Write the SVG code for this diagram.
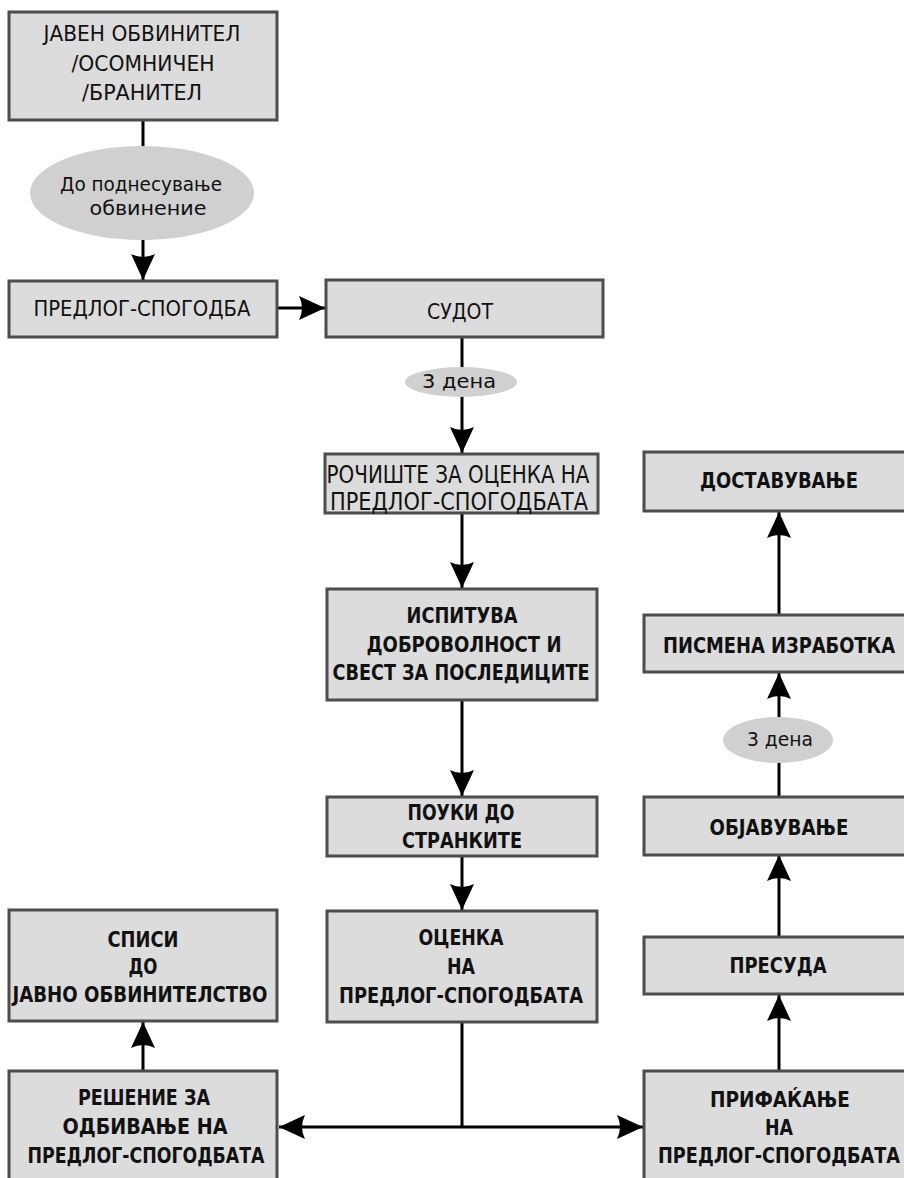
<svg xmlns="http://www.w3.org/2000/svg" width="904" height="1178" viewBox="0 0 904 1178">
  <style>
    .box { fill: #dcdcdc; stroke: #4d4d4d; stroke-width: 3; }
    .oval { fill: #d0d0d0; stroke: none; }
    .edge { stroke: #000; stroke-width: 3; fill: none; }
    .t { font-family: "DejaVu Sans Condensed", "Liberation Sans Narrow", "Liberation Sans", sans-serif; font-size: 22px; fill: #111; text-anchor: middle; }
    .b { font-weight: bold; }
    .s { font-size: 19px; }
  </style>
  <defs>
    <marker id="arrow" viewBox="0 0 26 24" refX="26" refY="12" markerWidth="26" markerHeight="24" markerUnits="userSpaceOnUse" orient="auto-start-reverse">
      <path d="M0,0 L26,12 L0,24 Q6,12 0,0 Z" fill="#000"/>
    </marker>
  </defs>

  <!-- connectors -->
  <g id="connectors">
    <line class="edge" x1="143" y1="120" x2="143" y2="280" marker-end="url(#arrow)"/>
    <line class="edge" x1="277" y1="308" x2="325" y2="308" marker-end="url(#arrow)"/>
    <line class="edge" x1="462" y1="337" x2="462" y2="453" marker-end="url(#arrow)"/>
    <line class="edge" x1="462" y1="513" x2="462" y2="588" marker-end="url(#arrow)"/>
    <line class="edge" x1="462" y1="700" x2="462" y2="796" marker-end="url(#arrow)"/>
    <line class="edge" x1="462" y1="856" x2="462" y2="910" marker-end="url(#arrow)"/>
    <line class="edge" x1="462" y1="1022" x2="462" y2="1127"/>
    <line class="edge" x1="279" y1="1127" x2="643" y2="1127" marker-start="url(#arrow)" marker-end="url(#arrow)"/>
    <line class="edge" x1="143" y1="1071" x2="143" y2="1022" marker-end="url(#arrow)"/>
    <line class="edge" x1="779" y1="1071" x2="779" y2="995" marker-end="url(#arrow)"/>
    <line class="edge" x1="779" y1="937" x2="779" y2="855" marker-end="url(#arrow)"/>
    <line class="edge" x1="779" y1="797" x2="779" y2="673" marker-end="url(#arrow)"/>
    <line class="edge" x1="779" y1="615" x2="779" y2="512" marker-end="url(#arrow)"/>
  </g>

  <!-- left column -->
  <g id="n-parties">
    <rect class="box" x="9" y="12" width="268" height="108"/>
    <text class="t" x="142" y="41" textLength="197" lengthAdjust="spacingAndGlyphs">ЈАВЕН ОБВИНИТЕЛ</text>
    <text class="t" x="143" y="71" textLength="143" lengthAdjust="spacingAndGlyphs">/ОСОМНИЧЕН</text>
    <text class="t" x="142" y="100" textLength="120" lengthAdjust="spacingAndGlyphs">/БРАНИТЕЛ</text>
  </g>
  <g id="n-deadline1">
    <ellipse class="oval" cx="142" cy="193" rx="112" ry="47"/>
    <text class="t s" x="141" y="191" textLength="162" lengthAdjust="spacingAndGlyphs">До поднесување</text>
    <text class="t s" x="148" y="215" textLength="117" lengthAdjust="spacingAndGlyphs">обвинение</text>
  </g>
  <g id="n-proposal">
    <rect class="box" x="9" y="281" width="268" height="56"/>
    <text class="t" x="142" y="316" textLength="217" lengthAdjust="spacingAndGlyphs">ПРЕДЛОГ-СПОГОДБА</text>
  </g>
  <g id="n-files">
    <rect class="box" x="9" y="910" width="268" height="111"/>
    <text class="t b" x="143" y="947" textLength="71" lengthAdjust="spacingAndGlyphs">СПИСИ</text>
    <text class="t b" x="143" y="974" textLength="29" lengthAdjust="spacingAndGlyphs">ДО</text>
    <text class="t b" x="140" y="1002" textLength="255" lengthAdjust="spacingAndGlyphs">ЈАВНО ОБВИНИТЕЛСТВО</text>
  </g>
  <g id="n-reject">
    <rect class="box" x="9" y="1071" width="268" height="120"/>
    <text class="t b" x="144" y="1105" textLength="132" lengthAdjust="spacingAndGlyphs">РЕШЕНИЕ ЗА</text>
    <text class="t b" x="145" y="1134" textLength="165" lengthAdjust="spacingAndGlyphs">ОДБИВАЊЕ НА</text>
    <text class="t b" x="146" y="1163" textLength="237" lengthAdjust="spacingAndGlyphs">ПРЕДЛОГ-СПОГОДБАТА</text>
  </g>

  <!-- middle column -->
  <g id="n-court">
    <rect class="box" x="326" y="280" width="277" height="57"/>
    <text class="t" x="460" y="319" textLength="66" lengthAdjust="spacingAndGlyphs">СУДОТ</text>
  </g>
  <g id="n-deadline2">
    <ellipse class="oval" cx="461" cy="382" rx="56" ry="15"/>
    <text class="t s" x="459" y="388" textLength="74" lengthAdjust="spacingAndGlyphs">3 дена</text>
  </g>
  <g id="n-hearing">
    <rect class="box" x="325" y="454" width="273" height="59"/>
    <text class="t" x="458" y="483" style="font-size:24px" textLength="263" lengthAdjust="spacingAndGlyphs">РОЧИШТЕ ЗА ОЦЕНКА НА</text>
    <text class="t" x="459" y="510" style="font-size:24px" textLength="258" lengthAdjust="spacingAndGlyphs">ПРЕДЛОГ-СПОГОДБАТА</text>
  </g>
  <g id="n-examine">
    <rect class="box" x="327" y="589" width="270" height="111"/>
    <text class="t b" x="462" y="623" textLength="111" lengthAdjust="spacingAndGlyphs">ИСПИТУВА</text>
    <text class="t b" x="464" y="652" textLength="195" lengthAdjust="spacingAndGlyphs">ДОБРОВОЛНОСТ И</text>
    <text class="t b" x="461" y="680" textLength="257" lengthAdjust="spacingAndGlyphs">СВЕСТ ЗА ПОСЛЕДИЦИТЕ</text>
  </g>
  <g id="n-instruct">
    <rect class="box" x="327" y="797" width="270" height="59"/>
    <text class="t b" x="461" y="820" textLength="107" lengthAdjust="spacingAndGlyphs">ПОУКИ ДО</text>
    <text class="t b" x="462" y="848" textLength="120" lengthAdjust="spacingAndGlyphs">СТРАНКИТЕ</text>
  </g>
  <g id="n-assess">
    <rect class="box" x="327" y="911" width="270" height="111"/>
    <text class="t b" x="461" y="945" textLength="85" lengthAdjust="spacingAndGlyphs">ОЦЕНКА</text>
    <text class="t b" x="461" y="974" textLength="28" lengthAdjust="spacingAndGlyphs">НА</text>
    <text class="t b" x="461" y="1003" textLength="244" lengthAdjust="spacingAndGlyphs">ПРЕДЛОГ-СПОГОДБАТА</text>
  </g>

  <!-- right column -->
  <g id="n-deliver">
    <rect class="box" x="644" y="452" width="272" height="59"/>
    <text class="t b" x="779" y="488" textLength="158" lengthAdjust="spacingAndGlyphs">ДОСТАВУВАЊЕ</text>
  </g>
  <g id="n-written">
    <rect class="box" x="644" y="615" width="272" height="57"/>
    <text class="t b" x="779" y="653" textLength="232" lengthAdjust="spacingAndGlyphs">ПИСМЕНА ИЗРАБОТКА</text>
  </g>
  <g id="n-deadline3">
    <ellipse class="oval" cx="778" cy="740" rx="55" ry="23"/>
    <text class="t s" x="780" y="746" textLength="66" lengthAdjust="spacingAndGlyphs">3 дена</text>
  </g>
  <g id="n-publish">
    <rect class="box" x="644" y="797" width="272" height="58"/>
    <text class="t b" x="779" y="835" textLength="139" lengthAdjust="spacingAndGlyphs">ОБЈАВУВАЊЕ</text>
  </g>
  <g id="n-verdict">
    <rect class="box" x="644" y="937" width="272" height="57"/>
    <text class="t b" x="778" y="973" textLength="97" lengthAdjust="spacingAndGlyphs">ПРЕСУДА</text>
  </g>
  <g id="n-accept">
    <rect class="box" x="644" y="1071" width="272" height="120"/>
    <text class="t b" x="780" y="1107" textLength="140" lengthAdjust="spacingAndGlyphs">ПРИФАЌАЊЕ</text>
    <text class="t b" x="779" y="1135" textLength="28" lengthAdjust="spacingAndGlyphs">НА</text>
    <text class="t b" x="779" y="1163" textLength="242" lengthAdjust="spacingAndGlyphs">ПРЕДЛОГ-СПОГОДБАТА</text>
  </g>
</svg>
